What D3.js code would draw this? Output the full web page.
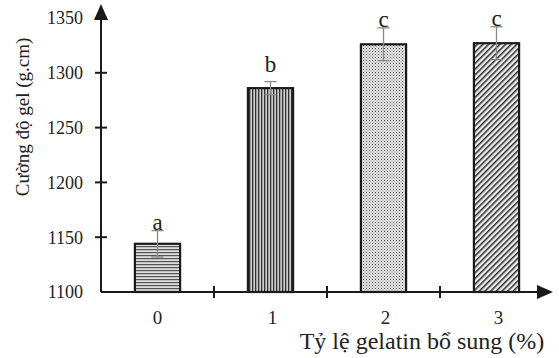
<!DOCTYPE html>
<html>
<head>
<meta charset="utf-8">
<script src="https://cdn.jsdelivr.net/npm/d3@7"></script>
<style>
  body { margin: 0; background: #fff; }
  text { font-family: "Liberation Serif", "Times New Roman", serif; fill: #222; }
</style>
</head>
<body>
<svg width="559" height="358"></svg>
<script>
const categories = ["0", "1", "2", "3"];
const values = [1144, 1286, 1326, 1327];
const errors = [12, 6, 15, 15];
const letters = ["a", "b", "c", "c"];
const yTicks = [1100, 1150, 1200, 1250, 1300, 1350];

const svg = d3.select("svg");
const mLeft = 101, mBottom = 292, mRight = 553, mTop = 18;

const x = d3.scaleBand().domain(categories).range([mLeft, mRight]).paddingInner(0.6).paddingOuter(0.3);
const xEdge = d3.scaleBand().domain(categories).range([mLeft, mRight]);
const y = d3.scaleLinear().domain([1100, 1350]).range([mBottom, mTop]);

const defs = svg.append("defs");
// horizontal stripes
const p0 = defs.append("pattern").attr("id", "p0").attr("patternUnits", "userSpaceOnUse")
  .attr("width", 4).attr("height", 3);
p0.append("rect").attr("width", 4).attr("height", 3).attr("fill", "#ddd");
p0.append("rect").attr("width", 4).attr("height", 1.2).attr("fill", "#555");
// vertical stripes
const p1 = defs.append("pattern").attr("id", "p1").attr("patternUnits", "userSpaceOnUse")
  .attr("width", 3).attr("height", 4);
p1.append("rect").attr("width", 3).attr("height", 4).attr("fill", "#ccc");
p1.append("rect").attr("width", 1.3).attr("height", 4).attr("fill", "#333");
// dots
const p2 = defs.append("pattern").attr("id", "p2").attr("patternUnits", "userSpaceOnUse")
  .attr("width", 3).attr("height", 3);
p2.append("rect").attr("width", 3).attr("height", 3).attr("fill", "#e6e6e6");
p2.append("rect").attr("width", 1).attr("height", 1).attr("fill", "#555");
p2.append("rect").attr("x", 1.5).attr("y", 1.5).attr("width", 1).attr("height", 1).attr("fill", "#888");
// diagonal hatch
const p3 = defs.append("pattern").attr("id", "p3").attr("patternUnits", "userSpaceOnUse")
  .attr("width", 4).attr("height", 4).attr("patternTransform", "rotate(45)");
p3.append("rect").attr("width", 4).attr("height", 4).attr("fill", "#eee");
p3.append("rect").attr("width", 1.6).attr("height", 4).attr("fill", "#333");

svg.selectAll("rect.bar").data(values).join("rect")
  .attr("class", "bar")
  .attr("x", (d, i) => x(categories[i]))
  .attr("y", d => y(d))
  .attr("width", x.bandwidth())
  .attr("height", d => mBottom - y(d))
  .attr("fill", (d, i) => `url(#p${i})`)
  .attr("stroke", "#1a1a1a").attr("stroke-width", 2.2);

// error bars
const cx = i => x(categories[i]) + x.bandwidth() / 2;
const eb = svg.append("g").attr("stroke", "#888").attr("stroke-width", 1.3);
values.forEach((v, i) => {
  eb.append("line").attr("x1", cx(i)).attr("x2", cx(i)).attr("y1", y(v - errors[i])).attr("y2", y(v + errors[i]));
  [v - errors[i], v + errors[i]].forEach(e => {
    eb.append("line").attr("x1", cx(i) - 6).attr("x2", cx(i) + 6).attr("y1", y(e)).attr("y2", y(e));
  });
});

svg.selectAll("text.let").data(letters).join("text")
  .attr("class", "let")
  .attr("x", (d, i) => cx(i))
  .attr("y", (d, i) => y(values[i] + errors[i]) - (i === 1 ? 10 : 1))
  .attr("text-anchor", "middle").attr("font-size", 23)
  .text(d => d);

// axes
const ax = svg.append("g").attr("stroke", "#1a1a1a").attr("stroke-width", 2);
ax.append("line").attr("x1", mLeft).attr("x2", mLeft).attr("y1", mBottom).attr("y2", 14);
ax.append("line").attr("x1", mLeft).attr("x2", mRight - 10).attr("y1", mBottom).attr("y2", mBottom);
svg.append("path").attr("d", `M${mLeft - 7},20 L${mLeft},4 L${mLeft + 7},20 Z`).attr("fill", "#1a1a1a");
svg.append("path").attr("d", `M${mRight - 16},${mBottom - 7} L${mRight},${mBottom} L${mRight - 16},${mBottom + 7} Z`).attr("fill", "#1a1a1a");

yTicks.forEach(t => {
  if (t > 1100) ax.append("line").attr("x1", mLeft - 6).attr("x2", mLeft + 6).attr("y1", y(t)).attr("y2", y(t));
  svg.append("text").attr("x", 83).attr("y", y(t)).attr("dy", "0.35em")
    .attr("text-anchor", "end").attr("font-size", 18).text(t);
});
categories.slice(1).forEach(c => {
  ax.append("line").attr("x1", xEdge(c)).attr("x2", xEdge(c)).attr("y1", mBottom - 6).attr("y2", mBottom + 6);
});
categories.forEach((c, i) => {
  svg.append("text").attr("x", cx(i) + (i ? 2 : 0)).attr("y", 324).attr("text-anchor", "middle")
    .attr("font-size", 19).text(c);
});

svg.append("text").attr("x", 422).attr("y", 349).attr("text-anchor", "middle")
  .attr("font-size", 24).text("Tỷ lệ gelatin bổ sung (%)");
svg.append("text").attr("transform", "translate(29,117) rotate(-90)")
  .attr("text-anchor", "middle").attr("font-size", 19).text("Cường độ gel (g.cm)");
</script>
</body>
</html>
